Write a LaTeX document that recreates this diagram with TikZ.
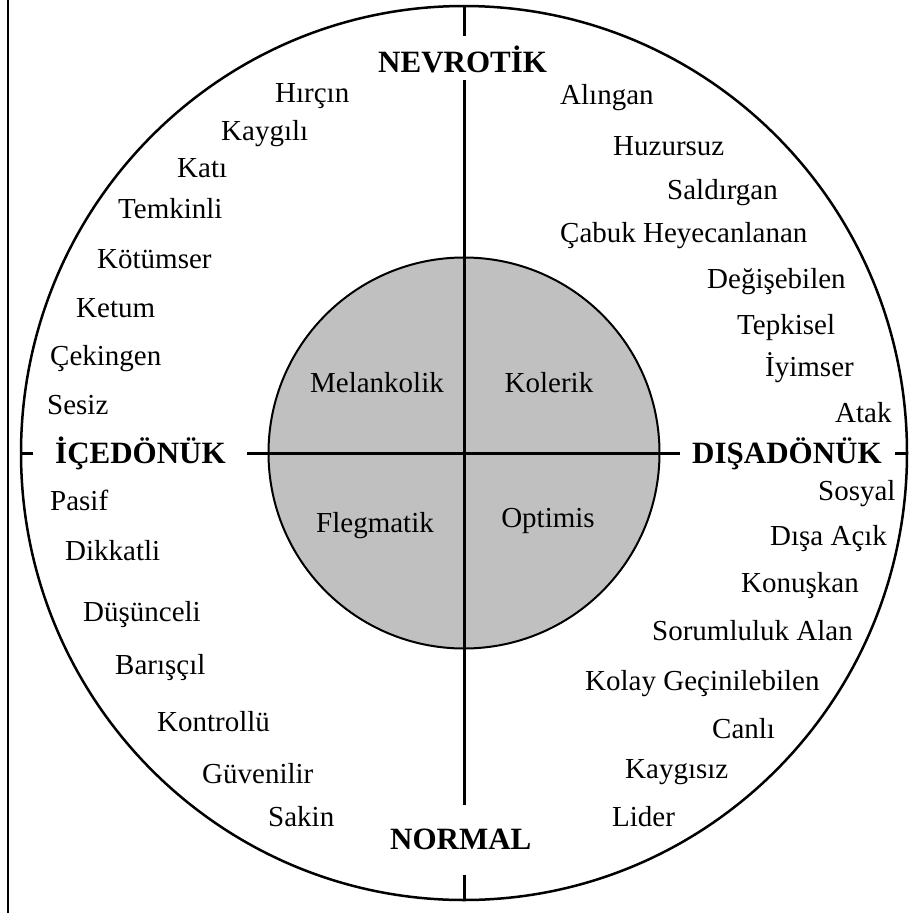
\documentclass[tikz,border=0pt]{standalone}
\usepackage{fontspec}
\setmainfont{Liberation Serif}
\usepackage{tikz}
\usetikzlibrary{shapes.geometric}

\definecolor{temperfill}{RGB}{192,192,192}
\newcommand{\traitsize}{\fontsize{29}{33}\selectfont}
\newcommand{\polesize}{\fontsize{31}{35}\selectfont\bfseries}

\begin{document}
\begin{tikzpicture}[
    x=1pt, y=-1pt,
    trait/.style={anchor=base west, inner sep=0pt, font=\traitsize},
    pole/.style={anchor=base west, inner sep=0pt, font=\polesize},
    temper/.style={anchor=base, inner sep=0pt, font=\traitsize},
    axis/.style={line width=3pt},
    ring/.style={draw, line width=2.5pt, inner sep=0pt}
]
    \useasboundingbox (0,0) rectangle (908,913);
    \draw[line width=2pt] (8,0) -- (8,913);

    \node[ring, ellipse, minimum width=886pt, minimum height=894pt] (outer) at (464,453) {};
    \node[ring, circle, fill=temperfill, line width=2pt, minimum size=391pt] (inner) at (464,453) {};

    \coordinate (ntick) at (464,36);
    \coordinate (stick) at (464,875);
    \coordinate (wtick) at (33,453);
    \coordinate (etick) at (895,453);
    \coordinate (vtop) at (464,80);
    \coordinate (vbot) at (464,805);
    \coordinate (hleft) at (247,453);
    \coordinate (hright) at (680,453);

    \draw[axis] (outer.north) -- (ntick);
    \draw[axis] (outer.south) -- (stick);
    \draw[axis] (outer.west) -- (wtick);
    \draw[axis] (outer.east) -- (etick);
    \draw[axis] (vtop) -- (vbot);
    \draw[axis] (hleft) -- (hright);

    \node[pole] (nevrotik) at (378,72) {NEVROTİK};
    \node[pole] (normal) at (390,849) {NORMAL};
    \node[pole] (icedonuk) at (55,463) {İÇEDÖNÜK};
    \node[pole] (disadonuk) at (692,463) {DIŞADÖNÜK};

    \node[temper] (melankolik) at (377,392) {Melankolik};
    \node[temper] (kolerik) at (549,392) {Kolerik};
    \node[temper] (flegmatik) at (375,532) {Flegmatik};
    \node[temper] (optimis) at (548,527) {Optimis};

    \node[trait] (hircin) at (275,102) {Hırçın};
    \node[trait] (kaygili) at (221,140) {Kaygılı};
    \node[trait] (kati) at (177,177) {Katı};
    \node[trait] (temkinli) at (118,218) {Temkinli};
    \node[trait] (kotumser) at (97,268) {Kötümser};
    \node[trait] (ketum) at (76,317) {Ketum};
    \node[trait] (cekingen) at (50,365) {Çekingen};
    \node[trait] (sesiz) at (47,414) {Sesiz};

    \node[trait] (pasif) at (50,510) {Pasif};
    \node[trait] (dikkatli) at (65,560) {Dikkatli};
    \node[trait] (dusunceli) at (83,621) {Düşünceli};
    \node[trait] (barisci) at (115,674) {Barışçıl};
    \node[trait] (kontrollu) at (157,731) {Kontrollü};
    \node[trait] (guvenilir) at (202,783) {Güvenilir};
    \node[trait] (sakin) at (268,826) {Sakin};

    \node[trait] (alingan) at (560,104) {Alıngan};
    \node[trait] (huzursuz) at (613,155) {Huzursuz};
    \node[trait] (saldirgan) at (667,199) {Saldırgan};
    \node[trait] (cabuk) at (560,242) {Çabuk Heyecanlanan};
    \node[trait] (degisebilen) at (707,288) {Değişebilen};
    \node[trait] (tepkisel) at (737,334) {Tepkisel};
    \node[trait] (iyimser) at (765,376) {İyimser};
    \node[trait] (atak) at (835,422) {Atak};

    \node[trait] (sosyal) at (818,500) {Sosyal};
    \node[trait] (disaacik) at (770,545) {Dışa Açık};
    \node[trait] (konuskan) at (741,592) {Konuşkan};
    \node[trait] (sorumluluk) at (652,640) {Sorumluluk Alan};
    \node[trait] (kolay) at (585,690) {Kolay Geçinilebilen};
    \node[trait] (canli) at (712,738) {Canlı};
    \node[trait] (kaygisiz) at (625,778) {Kaygısız};
    \node[trait] (lider) at (612,826) {Lider};
\end{tikzpicture}
\end{document}
